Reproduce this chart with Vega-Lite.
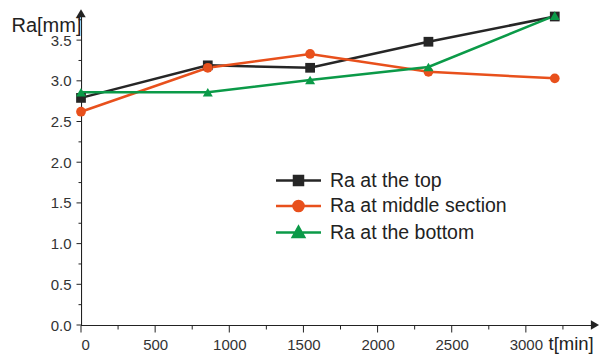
{
  "$schema": "https://vega.github.io/schema/vega-lite/v6.json",
  "width": 519,
  "height": 315,
  "autosize": "none",
  "padding": {"left": 81, "top": 10, "right": 1, "bottom": 29},
  "config": {
    "view": {"stroke": null},
    "axis": {
      "grid": false, "domain": false, "ticks": false, "tickSize": 0,
      "labelColor": "#333", "labelFont": "Liberation Sans", "labelFontSize": 15,
      "titleFont": "Liberation Sans", "titleFontWeight": "normal", "titleColor": "#222"
    }
  },
  "datasets": {
    "series": [
      {"series": "Ra at the top", "t": 0, "ra": 2.79},
      {"series": "Ra at the top", "t": 855, "ra": 3.19},
      {"series": "Ra at the top", "t": 1545, "ra": 3.16},
      {"series": "Ra at the top", "t": 2343, "ra": 3.48},
      {"series": "Ra at the top", "t": 3195, "ra": 3.79},
      {"series": "Ra at middle section", "t": 0, "ra": 2.62},
      {"series": "Ra at middle section", "t": 855, "ra": 3.16},
      {"series": "Ra at middle section", "t": 1545, "ra": 3.33},
      {"series": "Ra at middle section", "t": 2343, "ra": 3.11},
      {"series": "Ra at middle section", "t": 3195, "ra": 3.03},
      {"series": "Ra at the bottom", "t": 0, "ra": 2.86},
      {"series": "Ra at the bottom", "t": 855, "ra": 2.86},
      {"series": "Ra at the bottom", "t": 1545, "ra": 3.01},
      {"series": "Ra at the bottom", "t": 2343, "ra": 3.17},
      {"series": "Ra at the bottom", "t": 3195, "ra": 3.80}
    ],
    "xmajor": [{"t": 0}, {"t": 500}, {"t": 1000}, {"t": 1500}, {"t": 2000}, {"t": 2500}, {"t": 3000}],
    "xminor": [{"t": 250}, {"t": 750}, {"t": 1250}, {"t": 1750}, {"t": 2250}, {"t": 2750}, {"t": 3250}],
    "ymajor": [{"ra": 0}, {"ra": 0.5}, {"ra": 1}, {"ra": 1.5}, {"ra": 2}, {"ra": 2.5}, {"ra": 3}, {"ra": 3.5}],
    "yminor": [{"ra": 0.25}, {"ra": 0.75}, {"ra": 1.25}, {"ra": 1.75}, {"ra": 2.25}, {"ra": 2.75}, {"ra": 3.25}, {"ra": 3.75}],
    "xarrow": [{"t": 3466, "ra": 0}],
    "yarrow": [{"t": 0, "ra": 3.83}]
  },
  "layer": [
    {
      "data": {"values": [{}]},
      "mark": {"type": "rect", "color": "#222", "opacity": 1, "clip": false},
      "encoding": {
        "x": {
          "datum": 0, "type": "quantitative",
          "scale": {"domain": [0, 3500], "nice": false, "zero": false},
          "axis": {
            "title": "t[min]", "titleFontSize": 18.5, "titleAlign": "left", "titleAnchor": null, "titleX": 467, "titleY": 24, "titleBaseline": "alphabetic",
            "values": [0, 500, 1000, 1500, 2000, 2500, 3000],
            "format": "d",
            "labelPadding": 12
          }
        },
        "x2": {"datum": 3466},
        "y": {
          "datum": 0, "type": "quantitative",
          "scale": {"domain": [0, 3.87], "nice": false, "zero": false},
          "axis": {
            "title": "Ra[mm]", "titleFontSize": 20, "titleAngle": 0, "titleAlign": "left", "titleAnchor": null, "titleX": -70, "titleY": 21, "titleBaseline": "alphabetic",
            "values": [0, 0.5, 1, 1.5, 2, 2.5, 3, 3.5],
            "format": ".1f",
            "labelPadding": 10
          }
        },
        "y2": {"datum": -0.0135}
      }
    },
    {
      "data": {"values": [{}]},
      "mark": {"type": "rect", "color": "#222", "opacity": 1, "clip": false},
      "encoding": {
        "x": {"datum": 0, "type": "quantitative"},
        "x2": {"datum": 7.2},
        "y": {"datum": 0, "type": "quantitative"},
        "y2": {"datum": 3.83}
      }
    },
    {
      "data": {"name": "xmajor"},
      "mark": {"type": "tick", "orient": "vertical", "color": "#222", "size": 7, "thickness": 1, "yOffset": 4, "opacity": 1, "clip": false},
      "encoding": {
        "x": {"field": "t", "type": "quantitative"},
        "y": {"datum": 0, "type": "quantitative"}
      }
    },
    {
      "data": {"name": "xminor"},
      "mark": {"type": "tick", "orient": "vertical", "color": "#222", "size": 4, "thickness": 1, "yOffset": 2.5, "opacity": 1, "clip": false},
      "encoding": {
        "x": {"field": "t", "type": "quantitative"},
        "y": {"datum": 0, "type": "quantitative"}
      }
    },
    {
      "data": {"name": "ymajor"},
      "mark": {"type": "tick", "orient": "horizontal", "color": "#222", "size": 5, "thickness": 1, "xOffset": -2, "opacity": 1, "clip": false},
      "encoding": {
        "y": {"field": "ra", "type": "quantitative"},
        "x": {"datum": 0, "type": "quantitative"}
      }
    },
    {
      "data": {"name": "yminor"},
      "mark": {"type": "tick", "orient": "horizontal", "color": "#222", "size": 3, "thickness": 1, "xOffset": -1, "opacity": 1, "clip": false},
      "encoding": {
        "y": {"field": "ra", "type": "quantitative"},
        "x": {"datum": 0, "type": "quantitative"}
      }
    },
    {
      "data": {"name": "series"},
      "mark": {"type": "line", "strokeWidth": 2.5},
      "encoding": {
        "x": {"field": "t", "type": "quantitative"},
        "y": {"field": "ra", "type": "quantitative"},
        "color": {
          "field": "series", "type": "nominal",
          "scale": {"domain": ["Ra at the top", "Ra at middle section", "Ra at the bottom"], "range": ["#262626", "#e8501c", "#0b9a48"]},
          "legend": {
            "title": null, "orient": "none", "legendX": 205, "legendY": 158,
            "padding": 0, "rowPadding": 3.5, "symbolSize": 506, "symbolStrokeWidth": 2.5,
            "labelFont": "Liberation Sans", "labelFontSize": 19.5, "labelColor": "#222", "labelOffset": 19, "labelLimit": 400,
            "encode": {
              "symbols": {
                "update": {
                  "shape": {"signal": "datum.value === 'Ra at the top' ? 'M-2,0H2M-0.4,-0.4H0.4V0.4H-0.4Z' : datum.value === 'Ra at middle section' ? 'M-2,0H2M0.45,0A0.45,0.45 0 1,1 -0.45,0A0.45,0.45 0 1,1 0.45,0Z' : 'M-2,0H2M0,-0.5L0.5,0.4H-0.5Z'"},
                  "fill": {"signal": "scale('color', datum.value)"},
                  "fillOpacity": {"value": 1}
                }
              }
            }
          }
        },
        "order": {"field": "t", "type": "quantitative"}
      }
    },
    {
      "data": {"name": "series"},
      "transform": [{"filter": "datum.series === 'Ra at the top'"}],
      "mark": {"type": "point", "shape": "square", "filled": true, "opacity": 1, "size": 95},
      "encoding": {
        "x": {"field": "t", "type": "quantitative"},
        "y": {"field": "ra", "type": "quantitative"},
        "color": {"field": "series", "type": "nominal", "legend": null}
      }
    },
    {
      "data": {"name": "series"},
      "transform": [{"filter": "datum.series === 'Ra at middle section'"}],
      "mark": {"type": "point", "shape": "circle", "filled": true, "opacity": 1, "size": 95},
      "encoding": {
        "x": {"field": "t", "type": "quantitative"},
        "y": {"field": "ra", "type": "quantitative"},
        "color": {"field": "series", "type": "nominal", "legend": null}
      }
    },
    {
      "data": {"name": "series"},
      "transform": [{"filter": "datum.series === 'Ra at the bottom'"}],
      "mark": {"type": "point", "shape": "triangle-up", "filled": true, "opacity": 1, "size": 100},
      "encoding": {
        "x": {"field": "t", "type": "quantitative"},
        "y": {"field": "ra", "type": "quantitative"},
        "color": {"field": "series", "type": "nominal", "legend": null}
      }
    },
    {
      "data": {"name": "xarrow"},
      "mark": {"type": "point", "shape": "triangle-right", "filled": true, "opacity": 1, "color": "#222", "size": 90, "clip": false},
      "encoding": {
        "x": {"field": "t", "type": "quantitative"},
        "y": {"field": "ra", "type": "quantitative"}
      }
    },
    {
      "data": {"name": "yarrow"},
      "mark": {"type": "point", "shape": "triangle-up", "filled": true, "opacity": 1, "color": "#222", "size": 90, "clip": false},
      "encoding": {
        "x": {"field": "t", "type": "quantitative"},
        "y": {"field": "ra", "type": "quantitative"}
      }
    }
  ]
}
